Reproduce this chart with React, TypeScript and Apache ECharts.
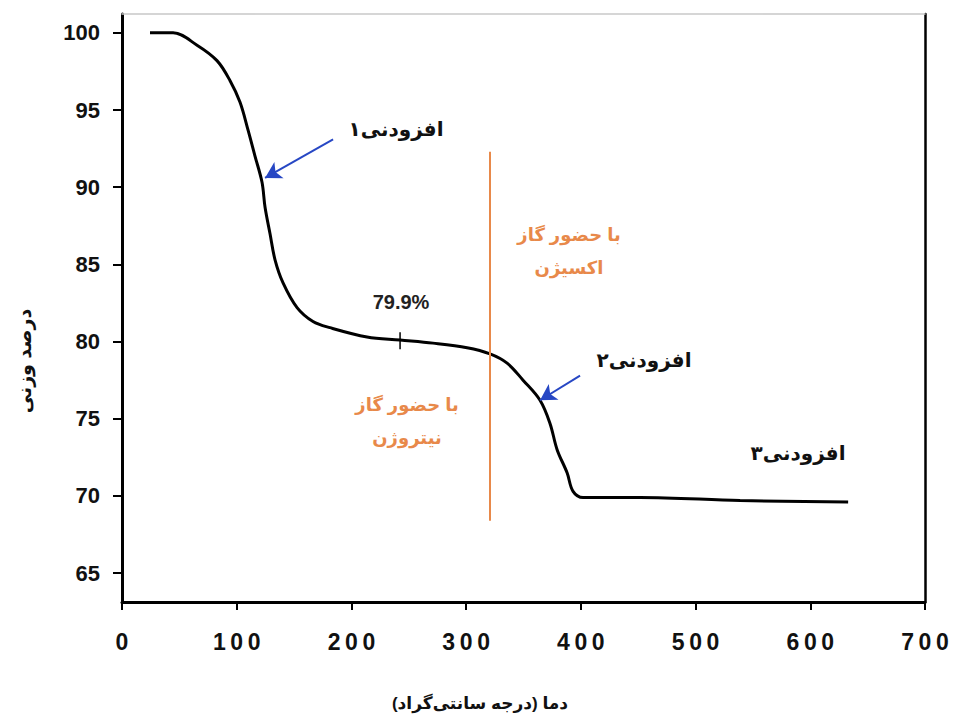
import React, { useEffect, useRef } from "react";
import * as echarts from "echarts";

// Temperature (°C) and weight percent
const temperature = [24.4, 44.5, 65.4, 82.8, 94.2, 102.9, 109.9, 116.0, 122.1, 124.7, 129.0, 133.4, 140.4, 152.6, 166.5, 181.3, 213.6, 242.4, 271.1, 300.8, 320.8, 335.7, 349.6, 364.4, 373.1, 379.3, 388.0, 393.2, 401.9, 416.7, 451.6, 538.8, 633.0];
const weightPct = [100.0, 100.0, 99.2, 98.2, 96.9, 95.5, 93.7, 92.0, 90.3, 88.7, 87.0, 85.3, 83.8, 82.2, 81.3, 80.9, 80.3, 80.1, 79.9, 79.6, 79.2, 78.6, 77.5, 76.2, 74.7, 73.0, 71.5, 70.3, 69.9, 69.9, 69.9, 69.7, 69.6];

const xTicks = [0, 100, 200, 300, 400, 500, 600, 700];
const yTicks = [65, 70, 75, 80, 85, 90, 95, 100];

// small marker on plateau (79.9%)
const plateauMarkT = [242.4, 242.4];
const plateauMarkW = [80.6, 79.5];

// gas switch line (nitrogen -> oxygen)
const gasSwitchT = [320.8, 320.8];
const gasSwitchW = [92.3, 68.4];

// arrows [tailT, tailW, tipT, tipW]
const arrow1 = [184.0, 93.1, 124.7, 90.6];
const arrow2 = [399.3, 77.8, 364.4, 76.2];

const xName = "\u200Fدما (درجه سانتی‌گراد)\u200F";
const yName = "درصد وزنی";
const label1 = "افزودنی۱";
const label2 = "افزودنی۲";
const label3 = "افزودنی۳";
const plateauLabel = "79.9%";
const oxygenLines = ["با حضور گاز", "اکسیژن"];
const nitrogenLines = ["با حضور گاز", "نیتروژن"];

const FONT = "'Liberation Sans', Arial, 'DejaVu Sans', sans-serif";
const ORANGE = "#E8894A";
const BLUE = "#2747c4";

export default function App() {
  const ref = useRef<HTMLDivElement>(null);
  useEffect(() => {
    document.body.style.margin = "0";
    if (!ref.current) return;
    const chart = echarts.init(ref.current, null, { renderer: "svg" });
    const yMin = 63.13;
    const yMax = 101.22;
    const arrowLine = (a: number[]) => [{ coord: [a[0], a[1]] }, { coord: [a[2], a[3]] }];
    const txt = (text: string, x: number, y: number, size: number, color: string) => ({
      type: "text",
      x,
      y,
      silent: true,
      style: {
        text,
        fill: color,
        font: `bold ${size}px ${FONT}`,
        textAlign: "center",
        textVerticalAlign: "middle",
      },
    });
    chart.setOption({
      animation: false,
      backgroundColor: "#ffffff",
      grid: { left: 122, right: 36, top: 14, bottom: 115, containLabel: false, outerBoundsMode: "none" },
      xAxis: [
        {
          type: "value",
          min: 0,
          max: 700,
          interval: 100,
          axisLine: { show: true, lineStyle: { color: "#000", width: 3 } },
          axisTick: { show: true, inside: false, length: 8, customValues: xTicks, lineStyle: { color: "#000", width: 2 } },
          axisLabel: {
            customValues: xTicks,
            margin: 28,
            color: "#111",
            fontSize: 23,
            fontWeight: "bold",
            fontFamily: FONT,
            formatter: (v: number) => String(v).split("").join("\u2009"),
          },
          splitLine: { show: false },
        },
        {
          type: "value",
          position: "top",
          min: 0,
          max: 700,
          axisLine: { show: true, onZero: false, lineStyle: { color: "#c8c8c8", width: 1.5 } },
          axisTick: { show: false },
          axisLabel: { show: false },
          splitLine: { show: false },
        },
      ],
      yAxis: [
        {
          type: "value",
          min: yMin,
          max: yMax,
          axisLine: { show: true, onZero: false, lineStyle: { color: "#000", width: 3 } },
          axisTick: { show: true, inside: false, length: 9, customValues: yTicks, lineStyle: { color: "#000", width: 2 } },
          axisLabel: {
            customValues: yTicks,
            margin: 22,
            color: "#111",
            fontSize: 22,
            fontWeight: "bold",
            fontFamily: FONT,
          },
          splitLine: { show: false },
        },
        {
          type: "value",
          position: "right",
          min: yMin,
          max: yMax,
          axisLine: { show: true, onZero: false, lineStyle: { color: "#000", width: 2.5 } },
          axisTick: { show: false },
          axisLabel: { show: false },
          splitLine: { show: false },
        },
      ],
      series: [
        {
          type: "line",
          data: temperature.map((t, i) => [t, weightPct[i]]),
          symbol: "none",
          smooth: 0.35,
          lineStyle: { color: "#000", width: 3 },
          silent: true,
          markLine: {
            silent: true,
            symbol: ["none", "arrow"],
            symbolSize: [14, 16],
            label: { show: false },
            lineStyle: { color: BLUE, width: 2, type: "solid" },
            data: [arrowLine(arrow1), arrowLine(arrow2)],
          },
        },
        {
          type: "line",
          data: plateauMarkT.map((t, i) => [t, plateauMarkW[i]]),
          symbol: "none",
          lineStyle: { color: "#000", width: 1.5 },
          silent: true,
        },
        {
          type: "line",
          data: gasSwitchT.map((t, i) => [t, gasSwitchW[i]]),
          symbol: "none",
          lineStyle: { color: ORANGE, width: 2 },
          silent: true,
        },
      ],
      graphic: [
        txt(label1, 396, 129, 20, "#111"),
        txt(plateauLabel, 401, 302, 20, "#222"),
        txt(label2, 644, 360, 20, "#111"),
        txt(label3, 798, 453, 20, "#111"),
        txt(oxygenLines[0], 569, 235, 18, ORANGE),
        txt(oxygenLines[1], 569, 268, 18, ORANGE),
        txt(nitrogenLines[0], 407, 405, 18, ORANGE),
        txt(nitrogenLines[1], 407, 438, 18, ORANGE),
        txt(xName, 480, 703, 17, "#111"),
        {
          type: "text",
          x: 24,
          y: 361,
          rotation: Math.PI / 2,
          silent: true,
          style: {
            text: yName,
            fill: "#111",
            font: `bold 19px ${FONT}`,
            textAlign: "center",
            textVerticalAlign: "middle",
          },
        },
      ],
    });
    return () => chart.dispose();
  }, []);
  return <div ref={ref} style={{ width: 961, height: 717 }} />;
}
